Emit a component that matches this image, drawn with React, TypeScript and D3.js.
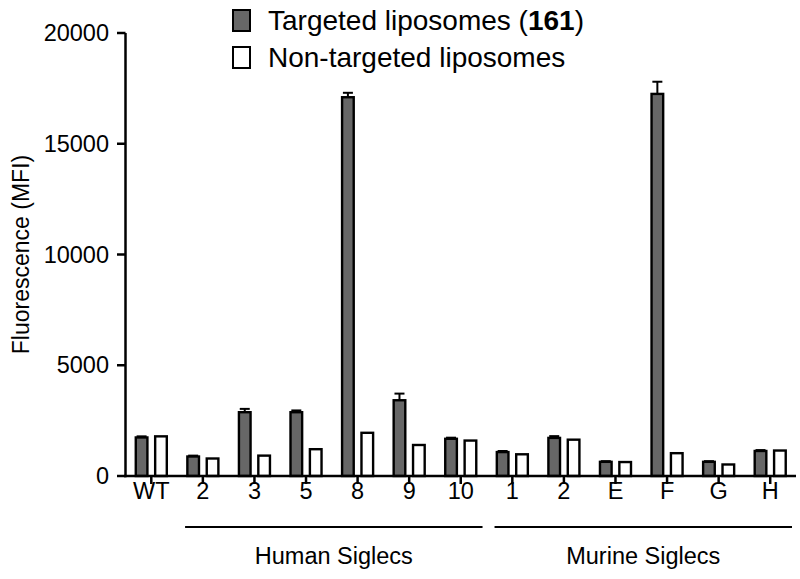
import React from 'react';
import * as d3 from 'd3';

// categories (ids are unique, labels are what is printed)
const categoryIds = ['WT', 'h2', 'h3', 'h5', 'h8', 'h9', 'h10', 'm1', 'm2', 'mE', 'mF', 'mG', 'mH'];
const tickLabels = ['WT', '2', '3', '5', '8', '9', '10', '1', '2', 'E', 'F', 'G', 'H'];

const targeted = [1740, 880, 2880, 2880, 17100, 3420, 1680, 1080, 1720, 640, 17250, 640, 1130];
const targetedErr = [50, 40, 150, 80, 200, 300, 50, 50, 80, 30, 550, 30, 40];
const nonTargeted = [1790, 790, 920, 1210, 1950, 1400, 1600, 980, 1640, 630, 1030, 520, 1150];

const yTicks = [0, 5000, 10000, 15000, 20000];

const groups = [
  { label: 'Human Siglecs', from: 'h2', to: 'h10' },
  { label: 'Murine Siglecs', from: 'm1', to: 'mH' },
];

const seriesNames = ['Targeted liposomes', 'Non-targeted liposomes'];

const W = 800;
const H = 579;
const FONT = '"Liberation Sans", Arial, Helvetica, sans-serif';
const GRAY = '#676767';

const App: React.FC = () => {
  const x0 = d3.scaleBand<string>().domain(categoryIds).range([125.5, 796]).paddingInner(0).paddingOuter(0);
  const x1 = d3.scaleBand<string>().domain(['t', 'n']).range([0, x0.bandwidth()]).paddingInner(0.4).paddingOuter(0.53);
  const y = d3.scaleLinear().domain([0, 20000]).range([476, 33]);

  const bw = x1.bandwidth();
  const capW = 10;

  return (
    <svg width={W} height={H} style={{ position: 'absolute', left: 0, top: 0, background: '#fff' }} fontFamily={FONT}>
      {/* Legend */}
      <g>
        <rect x={233} y={10} width={17} height={21} fill={GRAY} stroke="#000" strokeWidth={2} />
        <text x={268} y={30} fontSize={28} fill="#000">
          {seriesNames[0] + ' ('}
          <tspan fontWeight="bold">161</tspan>
          {')'}
        </text>
        <rect x={233} y={47} width={17} height={21} fill="#fff" stroke="#000" strokeWidth={2} />
        <text x={268} y={67} fontSize={28} fill="#000">{seriesNames[1]}</text>
      </g>

      {/* Bars */}
      {categoryIds.map((id, i) => {
        const bx = x0(id)!;
        const tx = bx + x1('t')!;
        const nx = bx + x1('n')!;
        const top = y(targeted[i]);
        const errTop = y(targeted[i] + targetedErr[i]);
        return (
          <g key={id}>
            <line x1={tx + bw / 2} x2={tx + bw / 2} y1={top} y2={errTop} stroke="#000" strokeWidth={2} />
            <line x1={tx + bw / 2 - capW / 2} x2={tx + bw / 2 + capW / 2} y1={errTop} y2={errTop} stroke="#000" strokeWidth={2} />
            <rect x={tx} y={top} width={bw} height={y(0) - top} fill={GRAY} stroke="#000" strokeWidth={2.4} />
            <rect x={nx} y={y(nonTargeted[i])} width={bw} height={y(0) - y(nonTargeted[i])} fill="#fff" stroke="#000" strokeWidth={2.4} />
          </g>
        );
      })}

      {/* Y axis */}
      <g>
        <line x1={125.5} x2={125.5} y1={y(20000)} y2={y(0) + 1.25} stroke="#000" strokeWidth={2.5} />
        {yTicks.map((t) => (
          <g key={t}>
            <line x1={117} x2={125.5} y1={y(t)} y2={y(t)} stroke="#000" strokeWidth={2.5} />
            <text x={109} y={y(t)} dy="0.35em" textAnchor="end" fontSize={23.5} fill="#000">{t}</text>
          </g>
        ))}
        <text
          transform={`translate(21,${(y(0) + y(20000)) / 2}) rotate(-90)`}
          textAnchor="middle"
          dy="0.35em"
          fontSize={23}
          fill="#000"
        >
          Fluorescence (MFI)
        </text>
      </g>

      {/* X axis */}
      <g>
        <line x1={124.25} x2={796} y1={y(0)} y2={y(0)} stroke="#000" strokeWidth={2.5} />
        {categoryIds.map((id, i) => {
          const cx = x0(id)! + x0.bandwidth() / 2;
          return (
            <g key={id}>
              <line x1={cx} x2={cx} y1={y(0)} y2={y(0) + 8} stroke="#000" strokeWidth={2.5} />
              <text x={cx} y={499} textAnchor="middle" fontSize={23.5} fill="#000">{tickLabels[i]}</text>
            </g>
          );
        })}
      </g>

      {/* Group brackets */}
      {groups.map((g) => {
        const gx1 = x0(g.from)! + 8;
        const gx2 = x0(g.to)! + x0.bandwidth() - 4;
        return (
          <g key={g.label}>
            <line x1={gx1} x2={gx2} y1={527} y2={527} stroke="#000" strokeWidth={1.8} />
            <text x={(gx1 + gx2) / 2} y={564} textAnchor="middle" fontSize={23.5} fill="#000">{g.label}</text>
          </g>
        );
      })}
    </svg>
  );
};

export default App;
